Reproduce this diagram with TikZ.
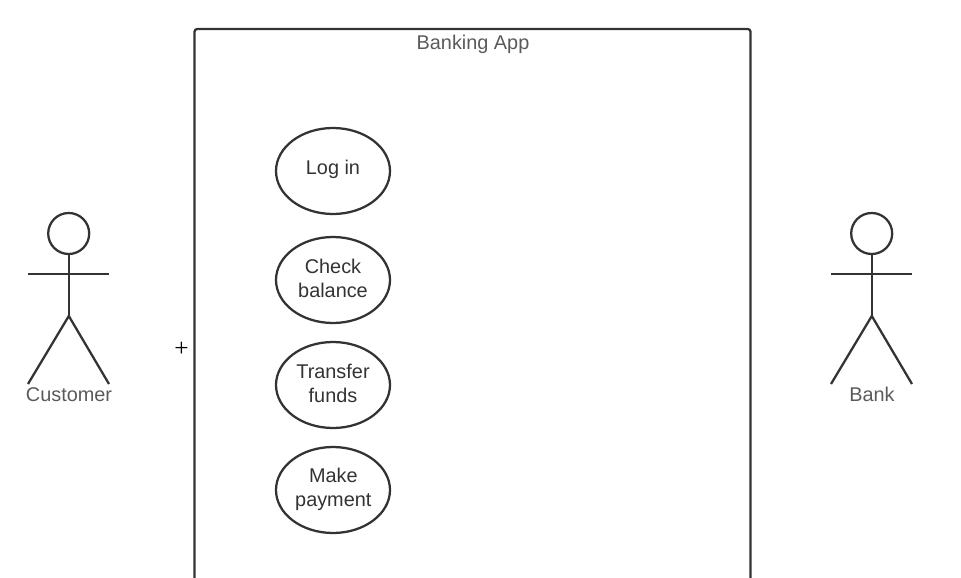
\documentclass[tikz,border=0pt]{standalone}
\usepackage{fontspec}
\setmainfont{Liberation Sans}
\newfontfamily\plusfont{Liberation Serif}
\usetikzlibrary{shapes.geometric}
\definecolor{ln}{HTML}{333333}
\definecolor{lbl}{HTML}{5A5A5A}
\tikzset{
  px/.style={x=0.75pt,y=-0.75pt},
  usecase/.style={draw=none,ellipse,minimum width=84.5pt,minimum height=64pt,inner sep=0pt,align=center,text=ln,font=\fontsize{14.9pt}{18pt}\selectfont},
  ucring/.style={draw=ln,line width=1.7pt},
  actorline/.style={draw=ln,line width=1.7pt},
  lab/.style={text=lbl,font=\fontsize{14.9pt}{18pt}\selectfont,inner sep=0pt},
}
\begin{document}
\begin{tikzpicture}[px]
\useasboundingbox (0,0) rectangle (961,578);
\draw[actorline,rounded corners=2pt] (194.5,578) -- (194.5,29) -- (750.5,29) -- (750.5,578);
\node[lab] (title) at (473,44) {Banking App};
\foreach \cy in {171,280,385,490} \draw[ucring] (333,\cy) ellipse (57 and 43);
\node[usecase] (login) at (333,169.5) {Log in};
\node[usecase] (check) at (333,278.3) {Check\\balance};
\node[usecase] (transfer) at (333,383) {Transfer\\funds};
\node[usecase] (pay) at (333.3,489.3) {Make\\payment};
\node[inner sep=0pt] (plus) at (181.5,349) {\plusfont\fontsize{19pt}{19pt}\selectfont +};
% Customer
\draw[actorline] (68.7,233.5) circle (20.5);
\draw[actorline] (68.8,254) -- (68.8,316);
\draw[actorline] (28,274) -- (109,274);
\draw[actorline] (28,384) -- (68.8,316) -- (109,384);
\node[lab] (customer) at (69,394.5) {Customer};
% Bank
\draw[actorline] (871.7,233.5) circle (20.5);
\draw[actorline] (871.8,254) -- (871.8,316);
\draw[actorline] (831,274) -- (912,274);
\draw[actorline] (831,384) -- (871.8,316) -- (912,384);
\node[lab] (bank) at (872,394.5) {Bank};
\end{tikzpicture}
\end{document}
